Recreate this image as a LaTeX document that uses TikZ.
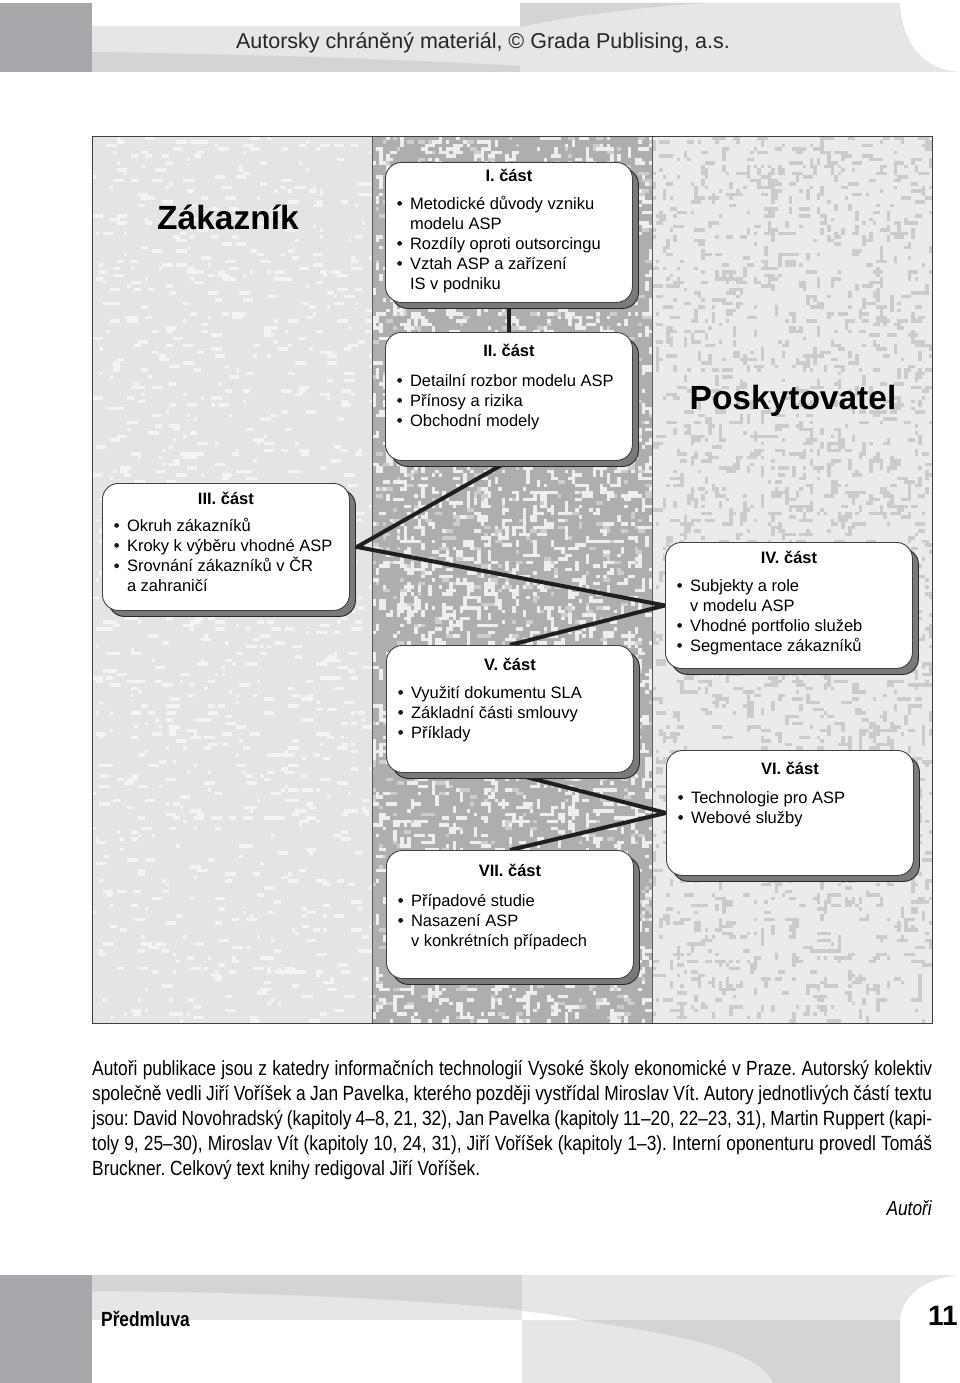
\documentclass[tikz,border=0pt]{standalone}
\usepackage{fontspec}
\setmainfont{Liberation Sans}
\newfontfamily\condf[FakeStretch=0.845]{Liberation Sans}
\usetikzlibrary{shadows,calc}
\pgfdeclarelayer{bg}
\pgfdeclarelayer{lines}
\pgfsetlayers{bg,lines,main}
\frenchspacing
\definecolor{hdark}{HTML}{A7A8AB}
\definecolor{hmid}{HTML}{D3D4D6}
\definecolor{hlight}{HTML}{E5E6E7}
\definecolor{colL}{HTML}{E4E4E4}
\definecolor{spL}{HTML}{F4F4F4}
\definecolor{colM}{HTML}{AEAEAE}
\definecolor{spM}{HTML}{EEEEEE}
\definecolor{spM2}{HTML}{CDCDCD}
\definecolor{colR}{HTML}{EBEBEB}
\definecolor{spR}{HTML}{CBCBCB}
\newcommand\bul{\tikz[baseline={(0pt,-5.6pt)}]\fill[black!90] (0pt,0pt) circle (2.4pt);}
\newcommand\partbox[8]{%
  \node[boxst, minimum height=#4pt] (p#1) at (#2,#3) {};
  \node[ttl] (t#1) at ($(p#1.north)+(0,#5)$) {#7};
  \node[lst] (b#1) at ($(p#1.north west)+(12,#6)$) {\begin{tabular}[t]{@{}l@{\hspace{8pt}}l@{}}#8\end{tabular}};}
\begin{document}
\begin{tikzpicture}[x=1pt,y=-1pt,
  boxst/.style={draw=black!75, line width=0.9pt, fill=white, rounded corners=16pt,
    minimum width=247pt, inner sep=0pt, anchor=north west,
    drop shadow={shadow xshift=6pt, shadow yshift=-6pt, fill=black!52, draw=black!85, line width=0.9pt, opacity=1}},
  ttl/.style={font=\fontsize{16.5}{20}\selectfont\bfseries, anchor=base, inner sep=0pt},
  lst/.style={font=\fontsize{16.5}{20}\selectfont, anchor=base west, inner sep=0pt},
  conn/.style={line width=4pt, draw=black!88, line join=miter},
  para/.style={font=\condf\fontsize{20.5}{25}\selectfont, anchor=base west, inner sep=0pt},
  big/.style={font=\fontsize{33.5}{40}\selectfont\bfseries, anchor=base, inner sep=0pt}]
\useasboundingbox (0,0) rectangle (960,1383);
% ---------- columns with texture (background layer) ----------
\begin{pgfonlayer}{bg}
\fill[white] (0,0) rectangle (960,1383);
\fill[colL] (92,137) rectangle (372,1023);
\fill[colM] (372,137) rectangle (652,1023);
\fill[colR] (652,137) rectangle (932,1023);
\pgfmathsetseed{7}
\begin{scope}
\clip (92,137) rectangle (372,1023);
\foreach \i in {1,...,1100}{\fill[spL] ({92+3.5*int(80*rnd)},{137+3.5*int(254*rnd)}) rectangle ++({3.5*(1+int(3*rnd))},3.5);}
\end{scope}
\begin{scope}
\clip (372,137) rectangle (652,1023);
\foreach \i in {1,...,1500}{\fill[spM] ({372+3.5*int(80*rnd)},{137+3.5*int(254*rnd)}) rectangle ++({3.5*(1+int(3*rnd))},3.5);}
\foreach \i in {1,...,1300}{\fill[spM] ({372+3.5*int(80*rnd)},{137+3.5*int(254*rnd)}) rectangle ++(3.5,{3.5*(1+int(3*rnd))});}
\foreach \i in {1,...,900}{\fill[spM2] ({372+3.5*int(80*rnd)},{137+3.5*int(254*rnd)}) rectangle ++({3.5*(1+int(2*rnd))},3.5);}
\end{scope}
\begin{scope}
\clip (652,137) rectangle (932,1023);
\foreach \i in {1,...,1300}{\fill[spR] ({652+3.5*int(80*rnd)},{137+3.5*int(254*rnd)}) rectangle ++({3.5*(1+int(3*rnd))},3.5);}
\foreach \i in {1,...,900}{\fill[spR] ({652+3.5*int(80*rnd)},{137+3.5*int(254*rnd)}) rectangle ++(3.5,{3.5*(1+int(3*rnd))});}
\end{scope}
\draw[black!65, line width=0.8pt] (372,137) -- (372,1023) (652,137) -- (652,1023);
\draw[black!75, line width=1pt] (92,137) rectangle (932,1023);
\end{pgfonlayer}
% ---------- header ----------
\fill[hdark] (0,3) rectangle (92,72);
\fill[hlight] (92,26) rectangle (520,72);
\fill[hmid] (92,72) -- (92,52) .. controls (250,54) and (420,60) .. (520,66) -- (520,72) -- cycle;
\fill[hlight] (520,3) -- (900,3) .. controls (902,45) and (925,70) .. (960,72) -- (520,72) -- cycle;
\fill[hmid] (520,3) -- (705,3) .. controls (630,8) and (560,18) .. (520,27) -- cycle;
\node[font=\fontsize{21.5}{26}\selectfont, text=black!85, anchor=base, inner sep=0pt] (hdr) at (483,49) {Autorsky chráněný materiál, © Grada Publising, a.s.};
% ---------- footer ----------
\fill[hdark] (0,1275) rectangle (92,1383);
\fill[hlight] (92,1275) rectangle (522,1320);
\fill[hmid] (92,1275) -- (522,1275) -- (522,1310) .. controls (400,1298) and (250,1292) .. (92,1291) -- cycle;
\fill[hlight] (522,1275) -- (960,1275) .. controls (925,1278) and (902,1295) .. (900,1320) -- (900,1383) -- (522,1383) -- cycle;
\fill[hmid] (580,1320) .. controls (680,1335) and (760,1350) .. (773,1383) -- (900,1383) -- (900,1320) -- cycle;
\fill[white] (522,1311) .. controls (550,1314) and (565,1317) .. (580,1320) -- (522,1320) -- cycle;
\node[font=\condf\bfseries\fontsize{20.5}{24}\selectfont, anchor=base west, inner sep=0pt] (ftl) at (101,1326) {Předmluva};
\node[font=\bfseries\fontsize{28}{32}\selectfont, anchor=base west, inner sep=0pt] (pg) at (928,1325) {11};
% ---------- titles ----------
\node[big] (zak) at (228,229) {Zákazník};
\node[big] (posk) at (793,409) {Poskytovatel};
% ---------- part boxes ----------
\partbox{1}{385}{162}{140}{20}{47}{I. část}{\bul & Metodické důvody vzniku\\ & modelu ASP\\ \bul & Rozdíly oproti outsorcingu\\ \bul & Vztah ASP a zařízení\\ & IS v podniku}
\partbox{2}{385}{332}{128}{24}{54}{II. část}{\bul & Detailní rozbor modelu ASP\\ \bul & Přínosy a rizika\\ \bul & Obchodní modely}
\partbox{3}{102}{483}{127}{21}{48}{III. část}{\bul & Okruh zákazníků\\ \bul & Kroky k výběru vhodné ASP\\ \bul & Srovnání zákazníků v ČR\\ & a zahraničí}
\partbox{4}{665}{542}{126}{21}{49}{IV. část}{\bul & Subjekty a role\\ & v modelu ASP\\ \bul & Vhodné portfolio služeb\\ \bul & Segmentace zákazníků}
\partbox{5}{386}{645}{127}{25}{53}{V. část}{\bul & Využití dokumentu SLA\\ \bul & Základní části smlouvy\\ \bul & Příklady}
\partbox{6}{666}{750}{125}{24}{53}{VI. část}{\bul & Technologie pro ASP\\ \bul & Webové služby}
\partbox{7}{386}{850}{128}{26}{56}{VII. část}{\bul & Případové studie\\ \bul & Nasazení ASP\\ & v konkrétních případech}
% ---------- connectors ----------
\coordinate (j3) at ($(p3.east)+(7,0)$);
\begin{pgfonlayer}{lines}
\draw[conn] (p1.south) -- (p2.north);
\draw[conn] (p2.south) -- (j3) -- (p4.west) -- (p5.north);
\draw[conn] (p5.south) -- (p6.west) -- (p7.north);
\end{pgfonlayer}
% ---------- paragraph ----------
\node[para] (l1) at (92,1075) {\makebox[840pt][s]{Autoři publikace jsou z katedry informačních technologií Vysoké školy ekonomické v Praze. Autorský kolektiv}};
\node[para] (l2) at (92,1100) {\makebox[840pt][s]{společně vedli Jiří Voříšek a Jan Pavelka, kterého později vystřídal Miroslav Vít. Autory jednotlivých částí textu}};
\node[para] (l3) at (92,1125) {\makebox[840pt][s]{jsou: David Novohradský (kapitoly 4–8, 21, 32), Jan Pavelka (kapitoly 11–20, 22–23, 31), Martin Ruppert (kapi-}};
\node[para] (l4) at (92,1150) {\makebox[840pt][s]{toly 9, 25–30), Miroslav Vít (kapitoly 10, 24, 31), Jiří Voříšek (kapitoly 1–3). Interní oponenturu provedl Tomáš}};
\node[para] (l5) at (92,1175) {Bruckner. Celkový text knihy redigoval Jiří Voříšek.};
\node[para, anchor=base east] (aut) at (932,1215) {\itshape Autoři};
\end{tikzpicture}
\end{document}
